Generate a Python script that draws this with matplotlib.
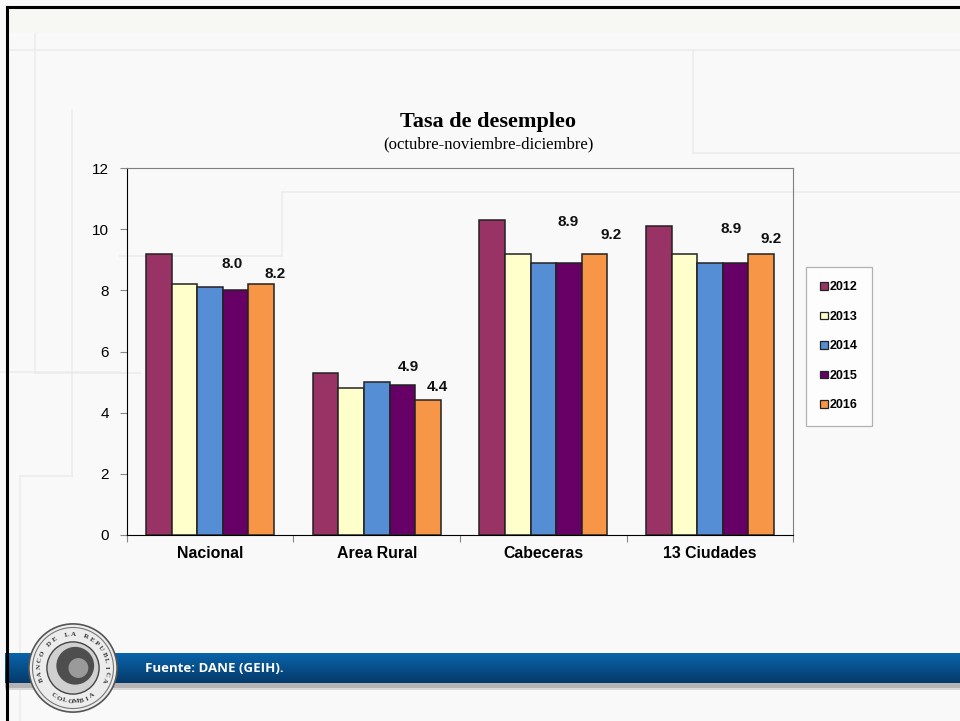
import numpy as np
import matplotlib
matplotlib.use("Agg")
import matplotlib.pyplot as plt
from matplotlib.lines import Line2D
from matplotlib.patches import Circle, Rectangle

categorias = ["Nacional", "Area Rural", "Cabeceras", "13 Ciudades"]
anios = ["2012", "2013", "2014", "2015", "2016"]
v2012 = [9.2, 5.3, 10.3, 10.1]
v2013 = [8.2, 4.8, 9.2, 9.2]
v2014 = [8.1, 5.0, 8.9, 8.9]
v2015 = [8.0, 4.9, 8.9, 8.9]
v2016 = [8.2, 4.4, 9.2, 9.2]
series = [v2012, v2013, v2014, v2015, v2016]
colores = ["#993366", "#FFFFCC", "#558ED5", "#660066", "#F79646"]
yticks = [0, 2, 4, 6, 8, 10, 12]

# etiquetas de datos solo para 2015 y 2016 (desplazamiento en pixeles, estilo Excel)
off2015 = [(-4, 26), (6, 18), (-1, 41), (-5, 34)]
off2016 = [(14, 10), (9, 13), (17, 19), (10, 15)]

W, H = 960, 721
fig = plt.figure(figsize=(9.6, 7.21), dpi=100)
fig.patch.set_facecolor("#f9f9f9")

def fx(x): return x / W
def fy(y): return 1 - y / H

# franja superior y lineas tenues del fondo
fig.patches.append(Rectangle((fx(7), fy(33)), fx(953), 26 / H, transform=fig.transFigure,
                             facecolor="#f7f7f3", edgecolor="none", zorder=0))
tenue = "#ececec"
lineas = [
    ([7, 960], [50, 50]), ([35, 35], [7, 373]), ([35, 140], [373, 373]),
    ([72, 72], [110, 476]), ([20, 72], [476, 476]), ([20, 20], [476, 721]),
    ([120, 282], [256, 256]), ([282, 282], [192, 256]), ([282, 960], [192, 192]),
    ([693, 693], [50, 153]), ([693, 960], [153, 153]), ([0, 120], [372, 372]),
]
for xs, ys in lineas:
    fig.lines.append(Line2D([fx(x) for x in xs], [fy(y) for y in ys], transform=fig.transFigure,
                            color=tenue, lw=1.2, zorder=0))
# marco negro
fig.lines.append(Line2D([fx(7), fx(7)], [fy(7), fy(721)], transform=fig.transFigure, color="black",
                        lw=2.2, zorder=10))
fig.lines.append(Line2D([fx(7), fx(960)], [fy(7), fy(7)], transform=fig.transFigure, color="black",
                        lw=2.2, zorder=10))

ax = fig.add_axes([fx(126.7), fy(534.7), 666.7 / W, 366.4 / H])
ax.set_zorder(3)
ax.set_facecolor("none")
x = np.arange(len(categorias))
ancho = 0.1536
barras = []
for i, (vals, c) in enumerate(zip(series, colores)):
    b = ax.bar(x + (i - 2) * ancho, vals, ancho, color=c, edgecolor="#222222", linewidth=1.1,
               label=anios[i], zorder=3)
    barras.append(b)

for serie, offs in ((3, off2015), (4, off2016)):
    for j, rect in enumerate(barras[serie]):
        v = series[serie][j]
        ox, oy = offs[j]
        ax.annotate(f"{v:.1f}", (rect.get_x() + rect.get_width() / 2, v),
                    xytext=(ox * 0.72, oy * 0.72), textcoords="offset points",
                    ha="center", va="center", fontsize=11, fontweight="bold",
                    family="Liberation Sans", color="#111111", zorder=5)

ax.set_xlim(-0.5, 3.5)
ax.set_ylim(0, 12)
ax.set_yticks(yticks)
ax.set_yticklabels([str(t) for t in yticks], fontsize=11, family="Liberation Sans")
ax.set_xticks([-0.5, 0.5, 1.5, 2.5, 3.5])
ax.set_xticklabels([])
ax.set_xticks(x, minor=True)
ax.set_xticklabels(categorias, minor=True, fontsize=11.4, fontweight="bold", family="Liberation Sans")
ax.tick_params(axis="x", which="minor", length=0, pad=8)
ax.tick_params(axis="x", which="major", length=5, color="#888888", direction="out")
ax.tick_params(axis="y", length=5, color="#888888", direction="out", pad=8)
ax.spines["left"].set_color("black")
ax.spines["bottom"].set_color("black")
ax.spines["top"].set_color("#808080")
ax.spines["right"].set_color("#808080")

fig.text(fx(488), fy(122), "Tasa de desempleo", ha="center", va="center", fontsize=16,
         fontweight="bold", family="Liberation Serif")
fig.text(fx(488), fy(144), "(octubre-noviembre-diciembre)", ha="center", va="center", fontsize=12,
         family="Liberation Serif")

leg = ax.legend(loc="upper left", bbox_to_anchor=(fx(805.7), fy(267)), bbox_transform=fig.transFigure,
                frameon=True, fancybox=False, handlelength=0.6, handleheight=0.6, handletextpad=0.15,
                labelspacing=1.4, borderpad=1.15, borderaxespad=0,
                prop={"family": "Liberation Sans", "weight": "bold", "size": 9})
leg.get_frame().set_edgecolor("#a0a0a0")
leg.get_frame().set_facecolor("white")
leg.get_frame().set_linewidth(0.9)
for h in leg.legend_handles:
    h.set_edgecolor("#222222")
    h.set_linewidth(0.9)

# barra azul del pie con degradado y sombra
fig.patches.append(Rectangle((fx(5), fy(688)), fx(955), 5 / H, transform=fig.transFigure,
                             facecolor="#b4b4b4", edgecolor="none", zorder=1))
fig.patches.append(Rectangle((fx(5), fy(690)), fx(955), 2 / H, transform=fig.transFigure,
                             facecolor="#d8d8d8", edgecolor="none", zorder=1))
axb = fig.add_axes([fx(5), fy(683), fx(955), 30 / H])
axb.set_zorder(1)
grad = np.linspace(0, 1, 50).reshape(-1, 1)
cmap = matplotlib.colors.LinearSegmentedColormap.from_list("azul", ["#0a64aa", "#053a6a"])
axb.imshow(grad, aspect="auto", cmap=cmap, extent=[0, 1, 0, 1], origin="upper")
axb.axis("off")
fig.text(fx(145), fy(668), "Fuente: DANE (GEIH).", ha="left", va="center", color="white", fontsize=9.5,
         fontweight="bold", family=["Liberation Sans Narrow", "Open Sans"], zorder=5)

# escudo del banco
axl = fig.add_axes([fx(28), fy(713), 90 / W, 90 / H])
axl.set_zorder(4)
axl.set_xlim(-1, 1)
axl.set_ylim(-1, 1)
axl.set_aspect("equal")
axl.axis("off")
axl.add_patch(Circle((0, 0), 0.98, facecolor="#ececec", edgecolor="#555555", lw=1.2))
axl.add_patch(Circle((0, 0), 0.9, facecolor="none", edgecolor="#777777", lw=0.8))
axl.add_patch(Circle((0, 0), 0.58, facecolor="#d0d0d0", edgecolor="#444444", lw=1.0))
axl.add_patch(Circle((0.05, 0.05), 0.42, facecolor="#4e4e4e", edgecolor="none"))
axl.add_patch(Circle((0.12, 0.0), 0.22, facecolor="#9a9a9a", edgecolor="none"))
arriba = "BANCO DE LA REPUBLICA"
for k, ch in enumerate(arriba):
    ang = np.deg2rad(200 - k * 220 / (len(arriba) - 1))
    axl.text(0.75 * np.cos(ang), 0.75 * np.sin(ang), ch, rotation=np.rad2deg(ang) - 90,
             ha="center", va="center", fontsize=5, fontweight="bold", family="Liberation Serif",
             color="#333333")
abajo = "COLOMBIA"
for k, ch in enumerate(abajo):
    ang = np.deg2rad(235 + k * 70 / (len(abajo) - 1))
    axl.text(0.75 * np.cos(ang), 0.75 * np.sin(ang), ch, rotation=np.rad2deg(ang) + 90,
             ha="center", va="center", fontsize=5, fontweight="bold", family="Liberation Serif",
             color="#333333")

fig.savefig("out.png", dpi=100, facecolor=fig.get_facecolor())
